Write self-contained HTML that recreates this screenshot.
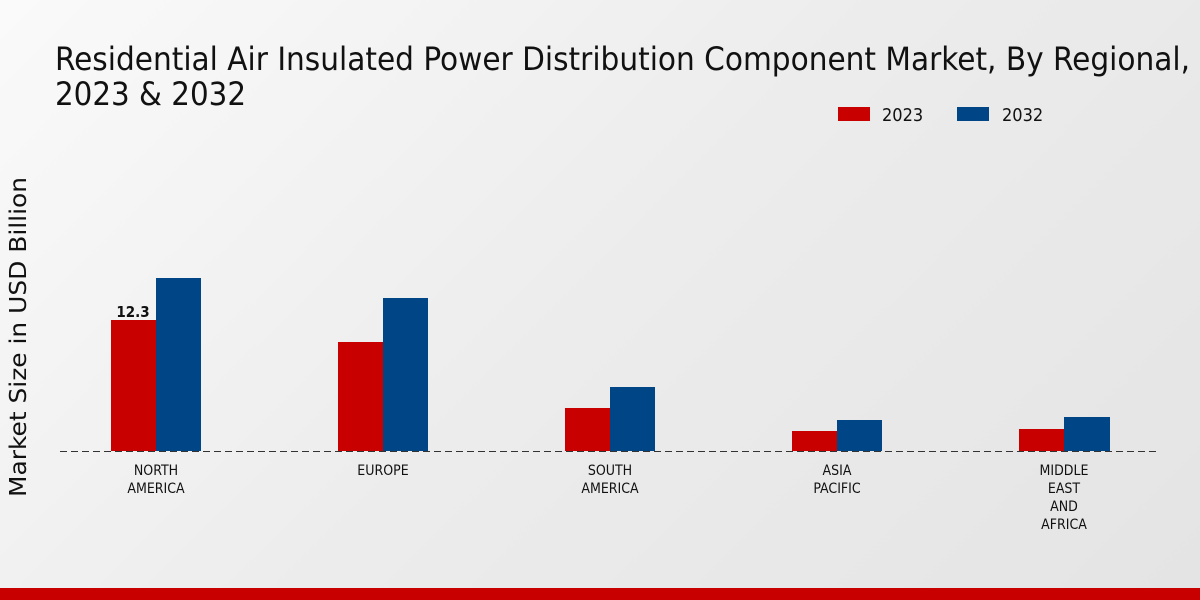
<!DOCTYPE html>
<html><head><style>
body{margin:0;width:1200px;height:600px;overflow:hidden;background:linear-gradient(135deg,#fafafa 0%,#ececec 50%,#e4e4e4 100%);font-family:"DejaVu Sans Condensed","DejaVu Sans","Liberation Sans",sans-serif;font-stretch:condensed}
</style></head><body>
<svg width="1200" height="600" xmlns="http://www.w3.org/2000/svg" style="position:absolute;left:0;top:0;font-family:'DejaVu Sans Condensed','DejaVu Sans',sans-serif;font-stretch:condensed">
<text x="55" y="70" font-size="32" fill="#111" textLength="1135" lengthAdjust="spacingAndGlyphs">Residential Air Insulated Power Distribution Component Market, By Regional,</text>
<text x="55" y="105" font-size="32" fill="#111" textLength="191" lengthAdjust="spacingAndGlyphs">2023 &amp; 2032</text>
<rect x="838" y="107" width="32" height="14" fill="#c80000"/>
<text x="882" y="121" font-size="18" fill="#111">2023</text>
<rect x="957" y="107" width="32" height="14" fill="#004586"/>
<text x="1002" y="121" font-size="18" fill="#111">2032</text>
<text transform="translate(26,337) rotate(-90)" text-anchor="middle" font-size="23" fill="#111" font-family="DejaVu Sans,sans-serif" font-stretch="normal" textLength="320" lengthAdjust="spacingAndGlyphs">Market Size in USD Billion</text>
<g>
<rect x="111" y="320" width="45" height="131" fill="#c80000"/><rect x="156" y="278" width="45" height="173" fill="#004586"/>
<rect x="338" y="342" width="45" height="109" fill="#c80000"/><rect x="383" y="298" width="45" height="153" fill="#004586"/>
<rect x="565" y="408" width="45" height="43" fill="#c80000"/><rect x="610" y="387" width="45" height="64" fill="#004586"/>
<rect x="792" y="431" width="45" height="20" fill="#c80000"/><rect x="837" y="420" width="45" height="31" fill="#004586"/>
<rect x="1019" y="429" width="45" height="22" fill="#c80000"/><rect x="1064" y="417" width="46" height="34" fill="#004586"/>
</g>
<line x1="60" y1="451.5" x2="1160" y2="451.5" stroke="#333" stroke-dasharray="7,4" stroke-width="1"/>
<text x="133" y="317" text-anchor="middle" font-size="15" font-weight="bold" fill="#111">12.3</text>
<g font-size="14" fill="#111" text-anchor="middle">
<text x="156" y="475">NORTH</text><text x="156" y="493">AMERICA</text>
<text x="383" y="475">EUROPE</text>
<text x="610" y="475">SOUTH</text><text x="610" y="493">AMERICA</text>
<text x="837" y="475">ASIA</text><text x="837" y="493">PACIFIC</text>
<text x="1064" y="475">MIDDLE</text><text x="1064" y="493">EAST</text><text x="1064" y="511">AND</text><text x="1064" y="529">AFRICA</text>
</g>
<rect x="0" y="588" width="1200" height="12" fill="#c80000"/>
</svg>
</body></html>
